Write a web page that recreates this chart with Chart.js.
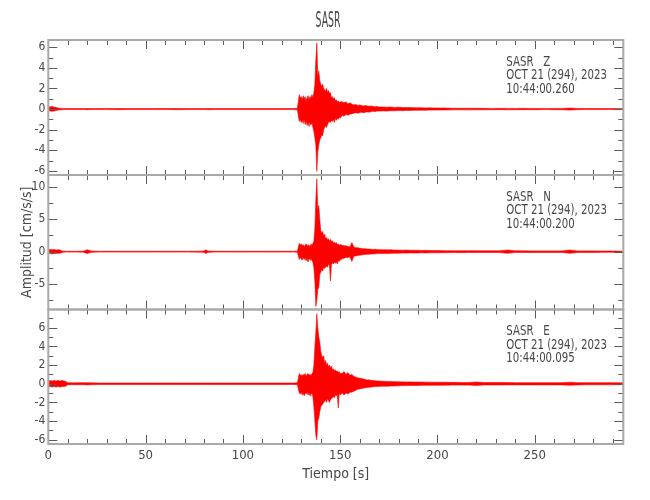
<!DOCTYPE html>
<html><head><meta charset="utf-8"><title>SASR</title>
<script src="https://cdn.jsdelivr.net/npm/chart.js@4.4.1/dist/chart.umd.min.js"></script>
<style>html,body{margin:0;padding:0;background:#fff;}#wrap{position:relative;width:650px;height:500px;}canvas{position:absolute;left:0;top:0;}</style>
</head><body><div id="wrap"><canvas id="cz" width="650" height="500"></canvas><canvas id="cn" width="650" height="500"></canvas><canvas id="ce" width="650" height="500"></canvas></div>
<script>
const TITLE = 'SASR';
const X_TITLE = 'Tiempo [s]';
const Y_TITLE = 'Amplitud [cm/s/s]';
const X_TICKS = [0, 50, 100, 150, 200, 250];
const STATION = 'SASR';
const COMPONENTS = ['Z', 'N', 'E'];
const DATE_LINE = 'OCT 21 (294), 2023';
const START_TIMES = ['10:44:00.260', '10:44:00.200', '10:44:00.095'];
const Z_YTICKS = [-6, -4, -2, 0, 2, 4, 6];
const N_YTICKS = [-5, 0, 5, 10];
const E_YTICKS = [-6, -4, -2, 0, 2, 4, 6];

// time samples (s) of the envelope readings
const TIME = [
 0,1,2,3,4,5,6,7,8,9,10,14,18,20,22,26,30,36,42,48,54,60,66,72,78,80,81,82,86,92,98,104,110,116,122,126,128,
 129,129.5,130,130.5,131,131.5,132,132.5,133,133.5,134,134.5,135,135.5,136,136.5,137,137.5,138,138.5,
 139,139.5,140,140.5,141,141.5,142,142.5,143,143.5,144,144.5,145,145.5,146,146.5,147,147.5,148,148.5,149,149.5,150,
 151,152,153,154,155,156,157,158,159,160,161,162,163,164,165,166,167,168,169,170,
 172,174,176,178,180,182,184,186,188,190,192,194,196,198,200,
 204,208,212,216,220,224,228,232,236,240,244,248,252,256,260,264,268,272,276,280,284,288,292,295.5
];

// Z component: upper and lower excursions (cm/s/s)
const Z_UP = [
 0.15,0.22,0.25,0.2,0.15,0.1,0.08,0.06,0.05,0.05,0.05,0.05,0.06,0.05,0.05,0.05,0.06,0.05,0.05,0.05,0.05,0.06,0.05,0.05,0.05,0.05,0.06,0.05,0.05,0.05,0.05,0.05,0.05,0.05,0.05,0.05,0.08,
 1.4,1.1,1.2,0.9,1.3,1.0,1.2,0.8,1.1,1.3,
 0.9,1.2,1.0,1.4,1.1,1.6,2.4,4.8,6.4,3.2,
 3.7,2.8,2.4,2.2,2.4,2.0,1.9,1.7,2.0,1.6,
 1.8,1.5,1.6,1.1,1.2,1.0,1.1,0.8,0.9,0.7,
 0.8,0.6,0.7,
 0.7,0.6,0.7,0.5,0.6,0.5,0.4,0.45,0.35,0.4,0.35,0.3,0.35,0.3,0.28,0.3,0.25,0.22,0.25,0.2,
 0.2,0.18,0.2,0.15,0.18,0.15,0.14,0.15,0.12,0.13,0.12,0.1,0.12,0.1,0.1,
 0.1,0.08,0.08,0.07,0.08,0.07,0.06,0.07,0.06,0.06,0.07,0.06,0.06,0.06,0.06,0.06,0.1,0.06,0.05,0.06,0.05,0.05,0.05,0.03
];
const Z_LO = [
 -0.15,-0.2,-0.22,-0.2,-0.15,-0.1,-0.08,-0.06,-0.05,-0.05,-0.05,-0.05,-0.05,-0.06,-0.05,-0.05,-0.05,-0.06,-0.05,-0.05,-0.05,-0.05,-0.06,-0.05,-0.05,-0.05,-0.05,-0.06,-0.05,-0.05,-0.05,-0.05,-0.05,-0.05,-0.05,-0.05,-0.08,
 -1.2,-1.0,-1.3,-1.1,-1.4,-1.0,-1.5,-1.2,-1.6,-1.3,
 -1.7,-1.2,-1.5,-1.3,-1.8,-2.2,-2.8,-3.5,-6.05,-4.2,
 -3.5,-3.0,-2.8,-2.5,-2.6,-2.0,-1.8,-1.6,-1.8,-1.5,
 -1.3,-1.2,-1.3,-1.1,-1.2,-1.0,-1.3,-0.9,-1.1,-0.9,
 -1.0,-0.8,-0.9,
 -0.6,-0.7,-0.5,-0.6,-0.5,-0.45,-0.4,-0.35,-0.4,-0.35,-0.3,-0.35,-0.3,-0.28,-0.3,-0.25,-0.22,-0.25,-0.2,-0.2,
 -0.18,-0.2,-0.16,-0.17,-0.15,-0.16,-0.13,-0.14,-0.12,-0.12,-0.11,-0.12,-0.1,-0.1,-0.1,
 -0.09,-0.08,-0.07,-0.08,-0.07,-0.07,-0.06,-0.06,-0.07,-0.06,-0.06,-0.06,-0.06,-0.05,-0.06,-0.06,-0.1,-0.06,-0.05,-0.05,-0.05,-0.05,-0.05,-0.03
];

// N component
const N_UP = [
 0.3,0.35,0.3,0.35,0.25,0.3,0.25,0.12,0.08,0.06,0.06,0.06,0.08,0.3,0.1,0.06,0.06,0.06,0.06,0.06,0.06,0.06,0.06,0.06,0.08,0.1,0.3,0.1,0.06,0.06,0.06,0.06,0.06,0.06,0.06,0.06,0.08,
 1.3,1.0,1.2,0.9,1.1,0.8,1.0,1.2,0.9,1.1,
 0.8,1.0,1.2,0.9,1.3,1.6,3.5,8.0,11.2,6.5,
 7.1,5.0,3.3,2.8,3.1,2.4,2.7,2.0,2.2,1.8,
 2.0,1.6,1.9,1.5,1.7,1.3,1.5,1.2,1.4,1.1,
 1.2,1.0,1.1,
 1.0,0.9,0.9,0.8,0.7,1.4,0.7,0.6,0.6,0.55,0.5,0.45,0.45,0.4,0.4,0.38,0.35,0.38,0.32,0.3,
 0.3,0.28,0.3,0.25,0.25,0.22,0.25,0.2,0.2,0.22,0.18,0.2,0.18,0.17,0.18,
 0.15,0.15,0.14,0.15,0.14,0.13,0.13,0.15,0.25,0.13,0.13,0.12,0.12,0.12,0.12,0.12,0.25,0.12,0.12,0.12,0.1,0.1,0.1,0.06
];
const N_LO = [
 -0.3,-0.3,-0.35,-0.3,-0.3,-0.25,-0.25,-0.12,-0.08,-0.06,-0.06,-0.06,-0.08,-0.3,-0.1,-0.06,-0.06,-0.06,-0.06,-0.06,-0.06,-0.06,-0.06,-0.06,-0.08,-0.1,-0.3,-0.1,-0.06,-0.06,-0.06,-0.06,-0.06,-0.06,-0.06,-0.06,-0.08,
 -1.2,-0.9,-1.1,-1.3,-0.9,-1.2,-1.0,-1.4,-1.1,-1.6,
 -1.0,-1.3,-1.1,-1.4,-1.6,-2.5,-4.5,-8.4,-7.5,-5.8,
 -5.5,-3.5,-3.2,-2.7,-3.0,-2.4,-2.6,-2.4,-2.2,-2.4,
 -1.9,-2.1,-4.5,-2.0,-1.7,-1.9,-1.6,-1.8,-1.5,-1.9,
 -1.4,-1.5,-1.3,
 -1.1,-1.0,-0.9,-0.9,-0.8,-1.5,-0.7,-0.65,-0.6,-0.55,-0.5,-0.45,-0.42,-0.4,-0.38,-0.35,-0.35,-0.32,-0.3,-0.3,
 -0.28,-0.3,-0.26,-0.25,-0.24,-0.22,-0.22,-0.2,-0.21,-0.2,-0.18,-0.19,-0.17,-0.18,-0.17,
 -0.15,-0.14,-0.15,-0.14,-0.14,-0.13,-0.13,-0.14,-0.25,-0.13,-0.12,-0.13,-0.12,-0.12,-0.12,-0.12,-0.25,-0.12,-0.11,-0.12,-0.1,-0.1,-0.1,-0.06
];

// E component
const E_UP = [
 0.3,0.35,0.3,0.35,0.3,0.35,0.3,0.35,0.3,0.25,0.1,0.1,0.12,0.1,0.1,0.08,0.08,0.08,0.08,0.08,0.08,0.08,0.08,0.08,0.08,0.08,0.08,0.08,0.08,0.08,0.08,0.08,0.08,0.08,0.08,0.08,0.1,
 1.1,0.9,1.0,0.8,1.0,0.9,1.1,0.8,1.0,1.1,
 0.9,1.0,0.8,1.1,1.2,2.0,4.0,5.5,7.5,6.0,
 5.0,4.5,3.5,3.0,2.8,3.0,2.2,2.5,2.0,2.2,
 1.8,2.0,1.7,1.9,1.5,1.6,1.4,1.5,1.3,1.4,
 1.2,1.3,1.1,
 1.1,1.3,1.0,1.2,0.9,1.0,0.8,0.7,0.65,0.6,0.55,0.5,0.45,0.4,0.42,0.35,0.35,0.32,0.3,0.3,
 0.28,0.25,0.25,0.22,0.22,0.2,0.2,0.2,0.18,0.18,0.18,0.17,0.17,0.16,0.16,
 0.15,0.15,0.14,0.14,0.18,0.14,0.13,0.13,0.13,0.12,0.12,0.12,0.12,0.12,0.12,0.12,0.16,0.12,0.11,0.11,0.11,0.11,0.11,0.1
];
const E_LO = [
 -0.3,-0.3,-0.35,-0.3,-0.35,-0.3,-0.35,-0.3,-0.3,-0.25,-0.1,-0.1,-0.1,-0.12,-0.1,-0.08,-0.08,-0.08,-0.08,-0.08,-0.08,-0.08,-0.08,-0.08,-0.08,-0.08,-0.08,-0.08,-0.08,-0.08,-0.08,-0.08,-0.08,-0.08,-0.08,-0.08,-0.1,
 -1.0,-1.1,-0.9,-1.2,-1.0,-1.3,-1.0,-1.1,-0.9,-1.2,
 -1.0,-1.3,-1.1,-1.0,-1.4,-2.5,-4.0,-5.5,-6.0,-4.0,
 -3.7,-3.0,-2.5,-2.3,-2.2,-2.0,-1.9,-1.7,-2.0,-1.6,
 -1.8,-2.0,-1.7,-1.6,-1.5,-1.4,-1.5,-1.2,-1.3,-1.1,
 -2.6,-1.0,-1.2,
 -1.0,-1.2,-1.0,-1.1,-0.9,-0.9,-0.8,-0.7,-0.6,-0.55,-0.5,-0.48,-0.42,-0.4,-0.38,-0.35,-0.33,-0.3,-0.3,-0.28,
 -0.26,-0.26,-0.24,-0.23,-0.21,-0.2,-0.2,-0.19,-0.18,-0.18,-0.17,-0.17,-0.16,-0.16,-0.16,
 -0.15,-0.14,-0.14,-0.14,-0.18,-0.13,-0.13,-0.13,-0.12,-0.12,-0.12,-0.12,-0.12,-0.12,-0.12,-0.12,-0.16,-0.12,-0.11,-0.11,-0.11,-0.11,-0.11,-0.1
];

const FONT = '"Liberation Sans Narrow","DejaVu Sans Condensed",sans-serif';
const TEXT = '#474747';
const RED = '#ff0000';

const seisFrame = {
  id: 'seisFrame',
  afterDraw(chart, args, o) {
    const {ctx, chartArea: a, scales: {x, y}} = chart;
    ctx.save();
    ctx.strokeStyle = '#5a5a5a';
    ctx.lineWidth = 1;
    ctx.beginPath();
    for (let t = 0; t <= x.max + 1e-9; t += o.xMinor) {
      const major = Math.abs(t / o.xMajor - Math.round(t / o.xMajor)) < 1e-6;
      const len = major ? 9 : 5;
      const px = Math.round(x.getPixelForValue(t)) + 0.5;
      ctx.moveTo(px, a.top); ctx.lineTo(px, a.top + len);
      ctx.moveTo(px, a.bottom); ctx.lineTo(px, a.bottom - len);
    }
    const start = Math.ceil(y.min / o.yMinor) * o.yMinor;
    for (let v = start; v <= y.max + 1e-9; v += o.yMinor) {
      const r = v / o.yMajor;
      const major = Math.abs(r - Math.round(r)) < 1e-6;
      const len = major ? 9 : 5;
      const py = Math.round(y.getPixelForValue(v)) + 0.5;
      ctx.moveTo(a.left, py); ctx.lineTo(a.left + len, py);
      ctx.moveTo(a.right, py); ctx.lineTo(a.right - len, py);
    }
    ctx.stroke();
    ctx.strokeStyle = '#a9a9a9';
    ctx.lineWidth = 2;
    ctx.strokeRect(a.left, a.top, a.right - a.left, a.bottom - a.top);
    ctx.fillStyle = TEXT;
    ctx.textBaseline = 'middle';
    ctx.textAlign = 'left';
    o.lines.forEach((s, i) => {
      ctx.save();
      ctx.translate(a.right - 117, a.top + 22 + i * 13.5);
      ctx.scale(0.84, 1);
      ctx.font = '13.5px ' + FONT;
      ctx.fillText(s, 0, 0);
      ctx.restore();
    });
    if (o.title) {
      ctx.save();
      ctx.translate(328, 21);
      ctx.scale(0.47, 1);
      ctx.font = '22px ' + FONT;
      ctx.textAlign = 'center';
      ctx.fillText(o.title, 0, 0);
      ctx.restore();
    }
    ctx.restore();
  }
};

function series(vals) {
  return TIME.map((t, i) => ({x: t, y: vals[i]}));
}

function panel(id, up, lo, yMin, yMax, yTicks, yMajor, yMinor, pad, comp, timeStr, opt) {
  const isBottom = !!opt.bottom;
  new Chart(document.getElementById(id), {
    type: 'line',
    data: {datasets: [
      {data: series(up), borderColor: RED, backgroundColor: RED, borderWidth: 0.6, pointRadius: 0, tension: 0, fill: '+1'},
      {data: series(lo), borderColor: RED, backgroundColor: RED, borderWidth: 0.6, pointRadius: 0, tension: 0, fill: false}
    ]},
    options: {
      responsive: false, animation: false, devicePixelRatio: 1,
      layout: {padding: pad},
      plugins: {
        legend: {display: false}, tooltip: {enabled: false},
        seisFrame: {xMajor: 50, xMinor: 10, yMajor: yMajor, yMinor: yMinor,
          lines: [STATION + '   ' + comp, DATE_LINE, timeStr], title: opt.title || null}
      },
      scales: {
        x: {
          type: 'linear', min: 0, max: 295.5, display: isBottom,
          afterBuildTicks: s => { s.ticks = X_TICKS.map(v => ({value: v})); },
          afterFit: s => { s.height = isBottom ? 56 : 0; },
          grid: {display: false, drawTicks: false}, border: {display: false},
          ticks: {color: TEXT, padding: 4, maxRotation: 0, autoSkip: false, font: {family: FONT, size: 13}},
          title: {display: true, text: X_TITLE, color: TEXT, font: {family: FONT, size: 14}, padding: {top: 0, bottom: 17}}
        },
        y: {
          min: yMin, max: yMax,
          afterBuildTicks: s => { s.ticks = yTicks.map(v => ({value: v})); },
          afterFit: s => { s.width = 48.3; },
          grid: {display: false, drawTicks: false}, border: {display: false},
          ticks: {color: TEXT, padding: 3, autoSkip: false, font: {family: FONT, size: 12}},
          title: {display: !!opt.ytitle, text: Y_TITLE, color: TEXT, font: {family: FONT, size: 14}, padding: {top: 19, bottom: 0}}
        }
      }
    },
    plugins: [seisFrame]
  });
}

panel('cz', Z_UP, Z_LO, -6.4, 6.7, Z_YTICKS, 2, 1, {top: 40, bottom: 325, left: 0, right: 26.7}, COMPONENTS[0], START_TIMES[0], {title: TITLE});
panel('cn', N_UP, N_LO, -8.9, 11.8, N_YTICKS, 5, 2.5, {top: 175, bottom: 190.5, left: 0, right: 26.7}, COMPONENTS[1], START_TIMES[1], {ytitle: true});
panel('ce', E_UP, E_LO, -6.45, 7.95, E_YTICKS, 2, 1, {top: 309.5, bottom: 0, left: 0, right: 26.7}, COMPONENTS[2], START_TIMES[2], {bottom: true});
</script>
</body></html>
